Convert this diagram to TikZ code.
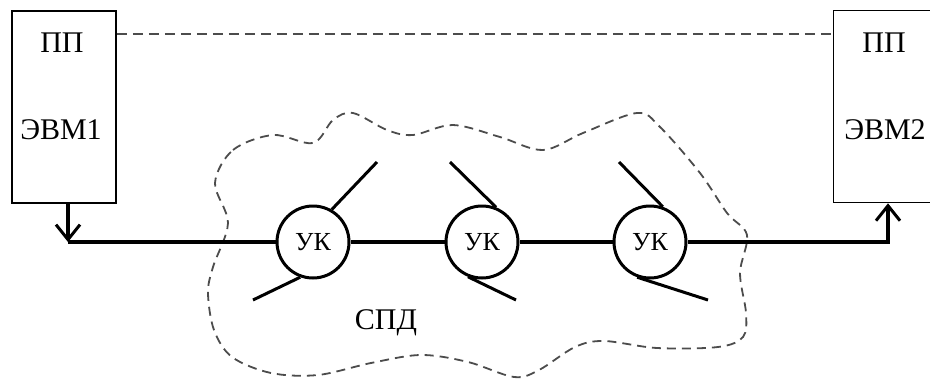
\documentclass[tikz,border=0pt]{standalone}
\usepackage{fontspec}
\setmainfont{Liberation Serif}
\usetikzlibrary{arrows.meta}
\begin{document}
\begin{tikzpicture}[x=1pt,y=-1pt,
  every node/.style={font=\fontsize{30}{30}\selectfont, inner sep=0pt},
  host/.style={draw, line width=1.6pt, minimum width=104pt, minimum height=192pt},
  switch/.style={draw, circle, line width=3pt, minimum size=72pt,
    font=\fontsize{26}{26}\selectfont},
  wire/.style={line width=3.2pt},
  spoke/.style={line width=3pt},
  feed/.style={wire, -{Straight Barb[length=15pt,width=24pt,line width=3pt]}},
  link/.style={draw=black!70, line width=1.8pt, dash pattern=on 10pt off 6pt},
  cloud/.style={draw=black!70, line width=1.8pt, dash pattern=on 9pt off 6pt}]
\useasboundingbox (0,0) rectangle (930,378);
\clip (0,0) rectangle (930,378);

% hosts
\node[host] (lbox) at (64,107) {};
\node[host] (rbox) at (885.5,106.5) {};
\node (lpp)  at (62,43)  {ПП};
\node (levm) at (61,130) {ЭВМ1};
\node (rpp)  at (884,43) {ПП};
\node (revm) at (885,130) {ЭВМ2};

% link between the protocol layers
\draw[link] (lbox.east |- 0,34) -- (rbox.west |- 0,34);

% data network boundary
\draw[cloud] plot[smooth cycle, tension=0.55] coordinates {
  (215,183) (233,150) (273,135) (313,143) (333,120) (353,113) (387,130)
  (413,135) (453,125) (500,137) (543,150) (583,133) (637,113) (660,127)
  (700,173) (727,213) (747,235) (740,273) (746,313) (743,337) (718,347)
  (657,348) (604,341) (575,347) (539,370) (514,377) (468,362) (421,355)
  (371,363) (318,375) (271,373) (232,357) (214,330) (208,293) (213,267)
  (228,223)};
\node (spd) at (386,323) {СПД};

% switching nodes
\node[switch] (u1) at (313,242) {УК};
\node[switch] (u2) at (482,242) {УК};
\node[switch] (u3) at (650,242) {УК};

% path corners
\coordinate (lcorner) at (68,242);
\coordinate (rcorner) at (888,242);

% spoke ends
\coordinate (s1a) at (377,162);
\coordinate (s1b) at (253,300);
\coordinate (s2a) at (450,162);
\coordinate (s2b) at (516,300);
\coordinate (s3a) at (619,162);
\coordinate (s3b) at (708,300);

% channels
\draw[feed] (lbox.south -| lcorner) -- (lcorner);
\draw[wire] (lcorner) -- (u1);
\draw[wire] (u1) -- (u2);
\draw[wire] (u2) -- (u3);
\draw[wire, line join=miter] (u3) -- (rcorner) -- (rcorner |- 0,220);
\draw[feed] (rcorner |- 0,230) -- (rbox.south -| rcorner);

% spokes
\draw[spoke] (u1.60) -- (s1a);
\draw[spoke] (u1.250) -- (s1b);
\draw[spoke] (u2.68) -- (s2a);
\draw[spoke] (u2.248) -- (s2b);
\draw[spoke] (u3.70) -- (s3a);
\draw[spoke] (u3.250) -- (s3b);
\end{tikzpicture}
\end{document}
